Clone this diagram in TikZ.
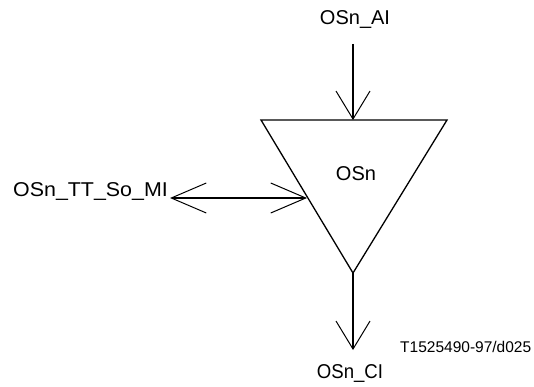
\documentclass[tikz,border=0pt]{standalone}
\usepackage{fontspec}
\usepackage{graphicx}
\setmainfont{Liberation Sans}
\usetikzlibrary{arrows.meta}
\begin{document}
\begin{tikzpicture}[x=1pt,y=-1pt,
  lbl/.style={inner sep=0pt,font=\fontsize{20}{24}\selectfont},
  shaft/.style={line width=1.8pt},
  barb/.style={-{Straight Barb[length=28pt,width=34pt,line width=1pt]}},
  barbs/.style={{Straight Barb[length=35pt,width=30pt,line width=1pt]}-{Straight Barb[length=35pt,width=30pt,line width=1pt]}}]
\useasboundingbox (0,0) rectangle (534,387);
% triangle
\coordinate (tl) at (261,120);
\coordinate (tr) at (447,120);
\coordinate (ap) at (353,273);
\draw[line width=1.3pt] (tl) -- (tr) -- (ap) -- cycle;
\coordinate (topin) at (353,120);
\node[lbl] (osn) at (356,174) {OSn};
% top input
\node[lbl] (ai) at (355,20) {OSn\_AI};
\coordinate (aistart) at (353,44);
\draw[shaft,barb] (aistart) -- (topin);
% left bidirectional
\node[lbl,anchor=east] (mi) at (168,192) {\scalebox{1.07}[1]{OSn\_TT\_So\_MI}};
\coordinate (mistart) at (170,198);
\coordinate (miend) at (307,198);
\draw[shaft,barbs] (mistart) -- (miend);
% bottom output
\coordinate (ciend) at (353,350);
\draw[shaft,barb] (ap) -- (ciend);
\node[lbl] (ci) at (350,374) {\scalebox{0.93}[1]{OSn\_CI}};
% reference code
\node[inner sep=0pt,anchor=west,font=\fontsize{15.5}{18}\selectfont] (ref) at (400,347) {T1525490-97/d025};
\end{tikzpicture}
\end{document}
